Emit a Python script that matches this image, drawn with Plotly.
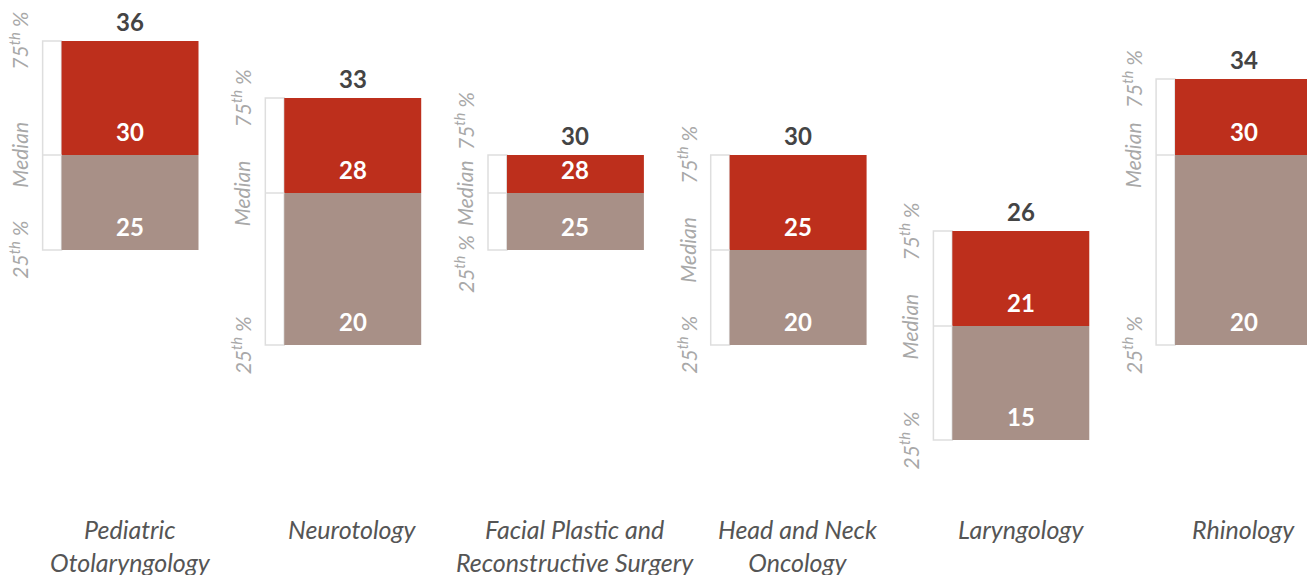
import plotly.graph_objects as go

# Data
categories = ["Pediatric<br>Otolaryngology", "Neurotology",
              "Facial Plastic and<br>Reconstructive Surgery",
              "Head and Neck<br>Oncology", "Laryngology", "Rhinology"]
p25 = [25, 20, 25, 20, 15, 20]
median = [30, 28, 28, 25, 21, 30]
p75 = [36, 33, 30, 30, 26, 34]

RED = "#bd2f1c"
TAUPE = "#a89087"
FONT = "Lato"

W, H = 1315, 575
Y_RANGE = [7.474, 37.737]
X_RANGE = [-0.548, 5.357]
BAR_W = 0.615
BOX_W = 0.085
ppu = H / (Y_RANGE[1] - Y_RANGE[0])  # pixels per unit

fig = go.Figure()
fig.add_trace(go.Bar(x=list(range(len(categories))), y=[m - a for m, a in zip(median, p25)],
                     base=p25, width=BAR_W, marker=dict(color=TAUPE, line=dict(width=0)),
                     hoverinfo="skip"))
fig.add_trace(go.Bar(x=list(range(len(categories))), y=[t - m for t, m in zip(p75, median)],
                     base=median, width=BAR_W, marker=dict(color=RED, line=dict(width=0)),
                     hoverinfo="skip"))

shapes = []
annotations = []
lab_font = dict(family=FONT, size=21, color="#a8a8a8", style="italic")
half = {"75": 29, "med": 38, "25": 28}
for i, cat in enumerate(categories):
    x0 = i - BAR_W / 2 - BOX_W
    x1 = i - BAR_W / 2
    line = dict(color="#dedede", width=1.5)
    shapes.append(dict(type="rect", x0=x0, x1=x1, y0=p25[i], y1=p75[i], line=line, layer="below"))
    shapes.append(dict(type="line", x0=x0, x1=x1, y0=median[i], y1=median[i], line=line))

    # value labels
    annotations.append(dict(x=i, y=p75[i], text="<b>%d</b>" % p75[i], showarrow=False,
                            yanchor="bottom", yshift=3,
                            font=dict(family=FONT, size=24, color="#444444")))
    for v in (median[i], p25[i]):
        annotations.append(dict(x=i, y=v, text="<b>%d</b>" % v, showarrow=False,
                                yanchor="bottom", yshift=7,
                                font=dict(family=FONT, size=24, color="white")))

    # rotated percentile labels, pushed apart when crowded
    sep_top = half["75"] + half["med"] + 5
    sep_bot = half["25"] + half["med"] + 5
    shift_top = max(0, sep_top - (p75[i] - median[i]) * ppu)
    shift_bot = -max(0, sep_bot - (median[i] - p25[i]) * ppu)
    for v, txt, ys in ((p75[i], "75<sup>th</sup> %", shift_top),
                       (median[i], "Median", 0),
                       (p25[i], "25<sup>th</sup> %", shift_bot)):
        annotations.append(dict(x=x0, y=v, text=txt, showarrow=False, textangle=-90,
                                xanchor="center", yanchor="middle", xshift=-24, yshift=ys,
                                font=lab_font))

    # category label
    annotations.append(dict(x=i, y=1 - 504 / H, yref="paper", text=cat, showarrow=False,
                            yanchor="top",
                            font=dict(family=FONT, size=25, color="#555555", style="italic")))

fig.update_layout(
    width=W, height=H,
    margin=dict(l=0, r=0, t=0, b=0),
    plot_bgcolor="white", paper_bgcolor="white",
    barmode="overlay", showlegend=False,
    xaxis=dict(range=X_RANGE, visible=False, fixedrange=True),
    yaxis=dict(range=Y_RANGE, visible=False, fixedrange=True),
    shapes=shapes, annotations=annotations,
)

fig.write_html("out.html")
